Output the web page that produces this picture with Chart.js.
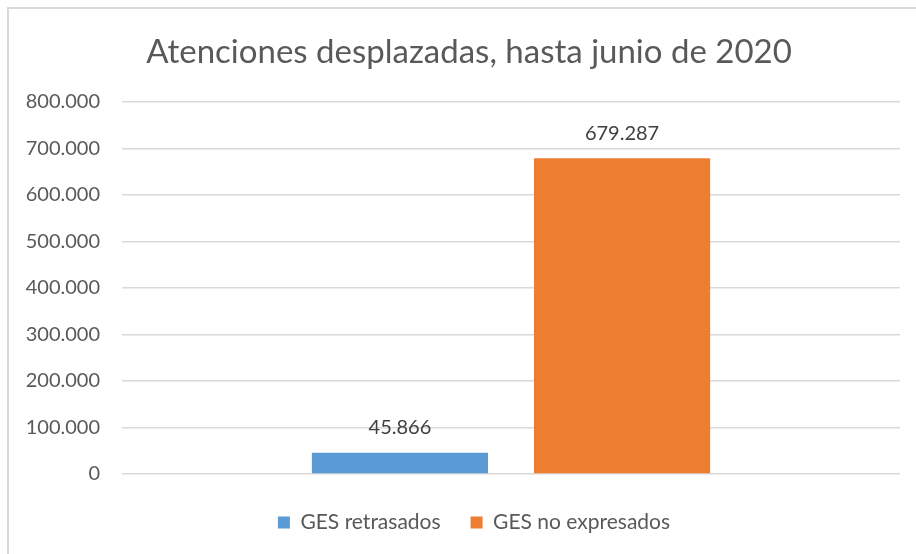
<!DOCTYPE html>
<html>
<head>
<meta charset="utf-8">
<script src="https://cdn.jsdelivr.net/npm/chart.js@4"></script>
<style>
  html, body { margin: 0; padding: 0; background: #fff; }
  #wrap { width: 916px; height: 554px; }
</style>
</head>
<body>
<div id="wrap"><canvas id="chart" width="916" height="554"></canvas></div>
<script>
const chartTitle = 'Atenciones desplazadas, hasta junio de 2020';
const seriesNames = ['GES retrasados', 'GES no expresados'];
const seriesValues = [45866, 679287];
const seriesColors = ['#5B9BD5', '#ED7D31'];
const categories = [''];
const yTicks = [0, 100000, 200000, 300000, 400000, 500000, 600000, 700000, 800000];

const fmt = v => v.toLocaleString('de-DE');

// light frame around the chart, cut off at the right and bottom like the source
const framePlugin = {
  id: 'frame',
  beforeDraw(chart) {
    const ctx = chart.ctx;
    ctx.save();
    ctx.fillStyle = '#fff';
    ctx.fillRect(0, 0, chart.width, chart.height);
    ctx.strokeStyle = '#d9d9d9';
    ctx.lineWidth = 2;
    ctx.beginPath();
    ctx.moveTo(8, chart.height + 5);
    ctx.lineTo(8, 8);
    ctx.lineTo(chart.width + 5, 8);
    ctx.stroke();
    ctx.restore();
  }
};

// the source legend sits a little right of the canvas centre
const legendShift = {
  id: 'legendShift',
  afterLayout(chart) {
    if (chart.legend) {
      chart.legend.left += 24;
      chart.legend.right += 24;
    }
  }
};

// title is a bit right of the canvas centre in the source, so draw it ourselves
const titlePlugin = {
  id: 'offsetTitle',
  afterDraw(chart) {
    const ctx = chart.ctx;
    ctx.save();
    ctx.font = '33px Lato';
    ctx.fillStyle = '#595959';
    ctx.textAlign = 'center';
    ctx.textBaseline = 'middle';
    ctx.fillText(chartTitle, 469, 52);
    ctx.restore();
  }
};

const valueLabels = {
  id: 'valueLabels',
  afterDatasetsDraw(chart) {
    const ctx = chart.ctx;
    ctx.save();
    ctx.font = '20px Lato';
    ctx.fillStyle = '#404040';
    ctx.textAlign = 'center';
    ctx.textBaseline = 'middle';
    chart.data.datasets.forEach((ds, i) => {
      chart.getDatasetMeta(i).data.forEach((bar, j) => {
        ctx.fillText(fmt(ds.data[j]), bar.x, bar.y - 25);
      });
    });
    ctx.restore();
  }
};

new Chart(document.getElementById('chart'), {
  type: 'bar',
  data: {
    labels: categories,
    datasets: seriesNames.map((name, i) => ({
      label: name,
      data: [seriesValues[i]],
      backgroundColor: seriesColors[i],
      categoryPercentage: 0.571,
      barPercentage: 0.793
    }))
  },
  options: {
    responsive: false,
    animation: false,
    layout: { padding: { left: 0, right: 16, top: 102, bottom: 11 } },
    plugins: {
      title: { display: false },
      legend: {
        position: 'bottom',
        labels: {
          color: '#595959',
          font: { family: 'Lato', size: 21 },
          boxWidth: 12,
          boxHeight: 12,
          padding: 30
        }
      },
      tooltip: { enabled: false }
    },
    scales: {
      x: {
        ticks: { display: false },
        grid: { display: false },
        border: { display: false }
      },
      y: {
        min: 0,
        max: 800000,
        afterBuildTicks(axis) { axis.ticks = yTicks.map(v => ({ value: v })); },
        afterFit(axis) { axis.width = 122; },
        ticks: {
          color: '#595959',
          font: { family: 'Lato', size: 20 },
          padding: 22,
          callback: v => fmt(v)
        },
        grid: { color: '#d9d9d9', lineWidth: 1.5, drawTicks: false },
        border: { display: false }
      }
    }
  },
  plugins: [framePlugin, legendShift, titlePlugin, valueLabels]
});
</script>
</body>
</html>
